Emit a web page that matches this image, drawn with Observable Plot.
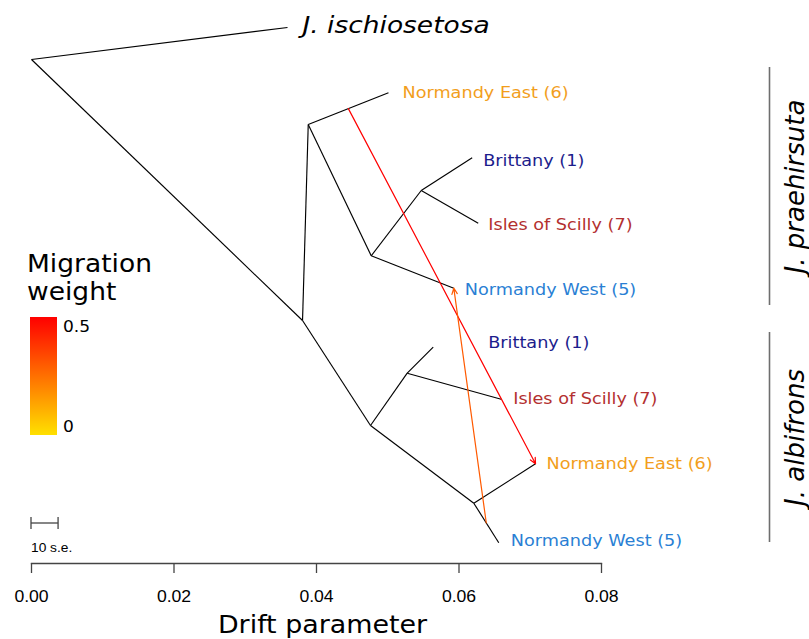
<!DOCTYPE html>
<html>
<head>
<meta charset="utf-8">
<script src="https://cdn.jsdelivr.net/npm/d3@7"></script>
<script src="https://cdn.jsdelivr.net/npm/@observablehq/plot@0.6"></script>
<style>
  html, body { margin: 0; padding: 0; background: #fff; overflow: hidden; }
  svg { display: block; }
</style>
</head>
<body>
<div id="chart"></div>
<script>
// ---- Tree nodes: drift from the root (x) and vertical row in the drawing (y) ----
const nodeNames = ["root", "ischiosetosa", "base", "praeRoot", "praeInner", "praeBS",
  "albiRoot", "albiBS", "albiNorm",
  "praeNE", "praeBr", "praeSc", "praeNW", "albiBr", "albiSc", "albiNE", "albiNW"];
const nodeDrift = [0, 0.03593, 0.03804, 0.03884, 0.04768, 0.0547,
  0.04758, 0.05273, 0.06208,
  0.0501, 0.06185, 0.0627, 0.05927, 0.05638, 0.06592, 0.07074, 0.06558];
const nodeRow = [59, 27, 320, 124, 255.3, 190,
  425, 372.7, 502.7,
  92.3, 157.3, 222.7, 287.7, 346.7, 398.7, 463.3, 542.3];

// ---- Tree edges (parent -> child) ----
const edgeParent = ["root", "root", "base", "praeRoot", "praeRoot", "praeInner", "praeBS", "praeBS",
  "praeInner", "base", "albiRoot", "albiBS", "albiBS", "albiRoot", "albiNorm", "albiNorm"];
const edgeChild = ["ischiosetosa", "base", "praeRoot", "praeNE", "praeInner", "praeBS", "praeBr", "praeSc",
  "praeNW", "albiRoot", "albiBS", "albiBr", "albiSc", "albiNorm", "albiNE", "albiNW"];

// ---- Leaves and their labels ----
const leafNodes = ["ischiosetosa", "praeNE", "praeBr", "praeSc", "praeNW", "albiBr", "albiSc", "albiNE", "albiNW"];
const leafLabels = ["J. ischiosetosa", "Normandy East (6)", "Brittany (1)", "Isles of Scilly (7)",
  "Normandy West (5)", "Brittany (1)", "Isles of Scilly (7)", "Normandy East (6)", "Normandy West (5)"];
const leafColors = ["#000000", "#f29e1c", "#1c1c8c", "#b3302f", "#2a7fd4",
  "#1c1c8c", "#b3302f", "#f29e1c", "#2a7fd4"];
// label offsets from each tip, in pixels
const leafLabelDx = [15, 14, 11, 10, 11, 55, 12, 11, 12];
const leafLabelDy = [-2, 0, 2.5, 2, 2, -4, 0, 0, -2];

// ---- Migration edges: start halfway along the branch above `migFromChild`, end at `migTo` ----
const migFromChild = ["praeNE", "albiNW"];
const migFromParent = ["praeRoot", "albiNorm"];
const migTo = ["albiNE", "praeNW"];
const migWeight = [0.5, 0.3];

// ---- Axis, scale bar, legend and species groups ----
const xTicks = [0, 0.02, 0.04, 0.06, 0.08];
const standardError = 0.00038;
const weightTicks = [0, 0.5];
const legendTitle = ["Migration", "weight"];
const speciesNames = ["J. praehirsuta", "J. albifrons"];
const speciesFromRow = [67, 332];
const speciesToRow = [305, 542];

// ---- Build tables ----
const node = new Map(nodeNames.map((n, i) => [n, {name: n, drift: nodeDrift[i], row: nodeRow[i]}]));
const edges = edgeParent.map((p, i) => ({from: node.get(p), to: node.get(edgeChild[i])}));
const leaves = leafNodes.map((n, i) => ({...node.get(n), label: leafLabels[i], color: leafColors[i],
  dx: leafLabelDx[i], dy: leafLabelDy[i]}));
const migrations = migFromChild.map((c, i) => {
  const a = node.get(migFromParent[i]), b = node.get(c), t = node.get(migTo[i]);
  return {x1: (a.drift + b.drift) / 2, y1: (a.row + b.row) / 2, x2: t.drift, y2: t.row, weight: migWeight[i]};
});
const species = speciesNames.map((s, i) => ({name: s, from: speciesFromRow[i], to: speciesToRow[i],
  mid: (speciesFromRow[i] + speciesToRow[i]) / 2}));
const xMax = xTicks[xTicks.length - 1];

const W = 809, H = 639;
const frameBottom = 563;

// Legend (title, colour bar, scale bar), drawn with the chart's own scales
function legendMark(index, scales) {
  const g = d3.create("svg:g").attr("aria-label", "legend").attr("text-anchor", "start");
  g.selectAll("text.title").data(legendTitle).join("text")
    .attr("x", 27).attr("y", (d, i) => 272 + 28 * i)
    .attr("font-family", "DejaVu Sans").attr("font-size", 25).attr("fill", "#000")
    .text(d => d);
  const id = "migration-gradient";
  const grad = g.append("defs").append("linearGradient")
    .attr("id", id).attr("x1", 0).attr("y1", 1).attr("x2", 0).attr("y2", 0);
  const wMax = weightTicks[weightTicks.length - 1];
  d3.range(0, 11).forEach(k => {
    grad.append("stop").attr("offset", k / 10).attr("stop-color", scales.color(wMax * k / 10));
  });
  g.append("rect").attr("x", 30).attr("y", 317).attr("width", 27).attr("height", 118)
    .attr("fill", `url(#${id})`);
  const wy = d3.scaleLinear().domain([0, wMax]).range([426.5, 326.5]);
  g.selectAll("text.wt").data(weightTicks).join("text")
    .attr("x", 63).attr("y", d => wy(d)).attr("dy", "0.36em")
    .attr("font-family", "DejaVu Sans").attr("font-size", 15.5).attr("fill", "#000")
    .text(d => d3.format("")(d));
  // scale bar: 10 standard errors of drift
  const x0 = scales.x(0), x1 = scales.x(10 * standardError), by = 523;
  const bar = g.append("g").attr("stroke", "#444").attr("stroke-width", 1.3).attr("fill", "none");
  bar.append("line").attr("x1", x0).attr("x2", x1).attr("y1", by).attr("y2", by);
  bar.append("line").attr("x1", x0).attr("x2", x0).attr("y1", by - 6).attr("y2", by + 6);
  bar.append("line").attr("x1", x1).attr("x2", x1).attr("y1", by - 6).attr("y2", by + 6);
  g.append("text").attr("x", x0).attr("y", 547).attr("dy", "0.36em")
    .attr("font-family", "Liberation Sans").attr("font-size", 12.5).attr("fill", "#000")
    .text("10 s.e.");
  return g.node();
}

const chart = Plot.plot({
  width: W,
  height: H,
  marginLeft: 31,
  marginRight: W - 601,
  marginTop: 0,
  marginBottom: H - frameBottom,
  style: {fontFamily: "DejaVu Sans", background: "#fff", color: "#000"},
  x: {domain: [0, xMax], axis: null},
  y: {domain: [0, frameBottom], reverse: true, axis: null},
  color: {type: "linear", domain: [0, 0.5], range: ["#ffe000", "#ff0000"], interpolate: "hsl"},
  marks: [
    // drift axis
    Plot.frame({anchor: "bottom", stroke: "#444", strokeWidth: 1.3}),
    Plot.axisX(xTicks, {tickSize: 10, tickPadding: 17.5, tickFormat: d3.format(".2f"),
      fontSize: 16, fontFamily: "Liberation Sans", stroke: "#444", strokeWidth: 1.3, label: null}),
    Plot.text(["Drift parameter"], {frameAnchor: "bottom", dx: 6, dy: 62, lineAnchor: "middle",
      fontSize: 24}),

    // tree
    Plot.link(edges, {x1: d => d.from.drift, y1: d => d.from.row, x2: d => d.to.drift, y2: d => d.to.row,
      stroke: "#000", strokeWidth: 1.15}),

    // migration edges coloured by weight
    Plot.arrow(migrations, {x1: "x1", y1: "y1", x2: "x2", y2: "y2", stroke: "weight",
      bend: 0, headLength: 8, headAngle: 50, strokeWidth: 1.2}),

    // leaf labels
    Plot.text(leaves.slice(1), {x: "drift", y: "row", text: "label", textAnchor: "start",
      lineAnchor: "middle", fill: {value: d => d.color, scale: null}, fontSize: 16.5,
      render: (index, scales, values, dims, context, next) => {
        const g = next(index, scales, values, dims, context);
        const rows = leaves.slice(1);
        d3.select(g).selectAll("text").each(function(_, j) {
          const d = rows[index[j]];
          const t = d3.select(this);
          t.attr("transform", `${t.attr("transform") || ""} translate(${d.dx},${d.dy})`);
        });
        return g;
      }}),
    Plot.text(leaves.slice(0, 1), {x: "drift", y: "row", text: "label", textAnchor: "start",
      lineAnchor: "middle", dx: leaves[0].dx, dy: leaves[0].dy, fontSize: 23, fontStyle: "italic",
      fill: "#000"}),

    // species brackets
    Plot.ruleX(species, {x: () => xMax, dx: 168, y1: "from", y2: "to", stroke: "#6e6e6e", strokeWidth: 1.6}),
    Plot.text(species, {x: () => xMax, dx: 194, y: "mid", text: "name", rotate: -90,
      fontSize: 26, fontStyle: "italic", lineAnchor: "middle", fill: "#000"}),

    legendMark
  ]
});

document.getElementById("chart").append(chart);

// widen horizontal text slightly, to the chart's proportions
const tickText = new Set(xTicks.map(d3.format(".2f")));
const stretchFor = s => {
  if (s === leafLabels[0]) return 1.15;
  if (leafLabels.includes(s)) return 1.07;
  if (legendTitle.includes(s)) return 1.06;
  if (s === "Drift parameter") return 1.12;
  if (tickText.has(s)) return 1.1;
  if (s === "10 s.e." || weightTicks.map(String).includes(s)) return 1.1;
  return 1;
};
chart.querySelectorAll("text").forEach(t => {
  const f = stretchFor(t.textContent);
  const n = t.getComputedTextLength();
  if (f !== 1 && n > 0) {
    t.setAttribute("textLength", n * f);
    t.setAttribute("lengthAdjust", "spacingAndGlyphs");
  }
});
</script>
</body>
</html>
